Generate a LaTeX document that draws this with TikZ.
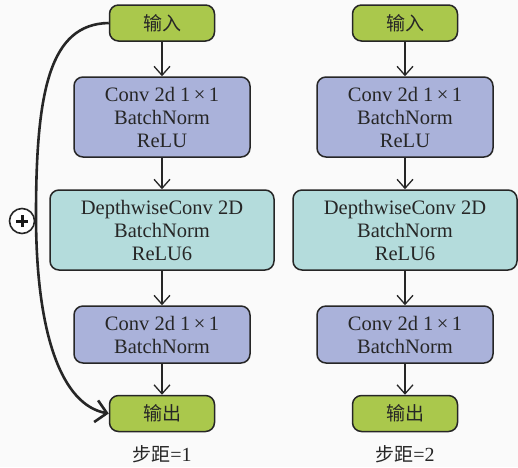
\documentclass[tikz,border=0pt]{standalone}
\usepackage{fontspec}
\setmainfont{Liberation Serif}
\newfontfamily\cjk{Noto Sans CJK SC}
\usetikzlibrary{arrows.meta}
\newdimen\unitsize
\setlength{\unitsize}{1pt}
\definecolor{ioGreen}{RGB}{170,200,76}
\definecolor{convBlue}{RGB}{170,178,218}
\definecolor{dwCyan}{RGB}{180,220,220}
\definecolor{paper}{RGB}{250,250,250}
\tikzset{
  block/.style={draw=black!85, line width=1.5\unitsize, rounded corners=9\unitsize,
    align=center, inner sep=0pt, text=black!85,
    font=\fontsize{20.5}{23}\selectfont},
  iobox/.style={block, fill=ioGreen, minimum width=105\unitsize,
    minimum height=36\unitsize, font=\cjk\fontsize{19}{23}\selectfont},
  convbox/.style={block, fill=convBlue, minimum width=176\unitsize},
  dwbox/.style={block, fill=dwCyan, minimum width=224\unitsize, minimum height=80\unitsize},
  flow/.style={-{Straight Barb[length=9pt,width=16pt]},
    line width=1.3\unitsize, black!85},
  skip/.style={-{Straight Barb[length=11pt,width=22pt]},
    line width=2.6\unitsize, black!85},
}

\begin{document}
\begin{tikzpicture}[x=\unitsize,y=\unitsize]
\fill[paper] (0,0) rectangle (518,-467);
\useasboundingbox (0,0) rectangle (518,-467);
% the two blocks, stride 1 and stride 2
\foreach \col/\cx/\stride in {l/162/1,r/405/2}{
  \node[iobox] (\col-in) at (\cx,-23) {输入};
  \node[convbox, minimum height=80\unitsize] (\col-c1) at (\cx,-117)
    {Conv 2d 1\,\texttimes\,1\\BatchNorm\\ReLU};
  \node[dwbox] (\col-dw) at (\cx,-230) {DepthwiseConv 2D\\BatchNorm\\ReLU6};
  \node[convbox, minimum height=57\unitsize] (\col-c2) at (\cx,-334.5)
    {Conv 2d 1\,\texttimes\,1\\BatchNorm};
  \node[text=black!85, inner sep=0pt, font=\fontsize{20}{23}\selectfont] (\col-lab)
    at (\cx,-454) {{\cjk\fontsize{19}{23}\selectfont 步距}=\stride};
  \node[iobox] (\col-out) at (\cx,-413.5) {输出};
  \draw[flow] (\col-in) -- (\col-c1);
  \draw[flow] (\col-c1) -- (\col-dw);
  \draw[flow] (\col-dw) -- (\col-c2);
  \draw[flow] (\col-c2) -- (\col-out);
}
% residual connection, stride 1 only
\draw[skip] (l-in.west) .. controls (50,-24) and (36,-90) .. (36,-215)
  .. controls (36,-335) and (62,-405) .. (l-out.west);
\node[circle, draw=black!85, line width=1.6\unitsize, fill=white, minimum size=25\unitsize,
  inner sep=0pt] (add) at (22,-221) {};
\draw[line width=3\unitsize, black!90] (add.center) ++(-6,0) -- ++(12,0)
  (add.center) ++(0,-6) -- ++(0,12);
\end{tikzpicture}
\end{document}
